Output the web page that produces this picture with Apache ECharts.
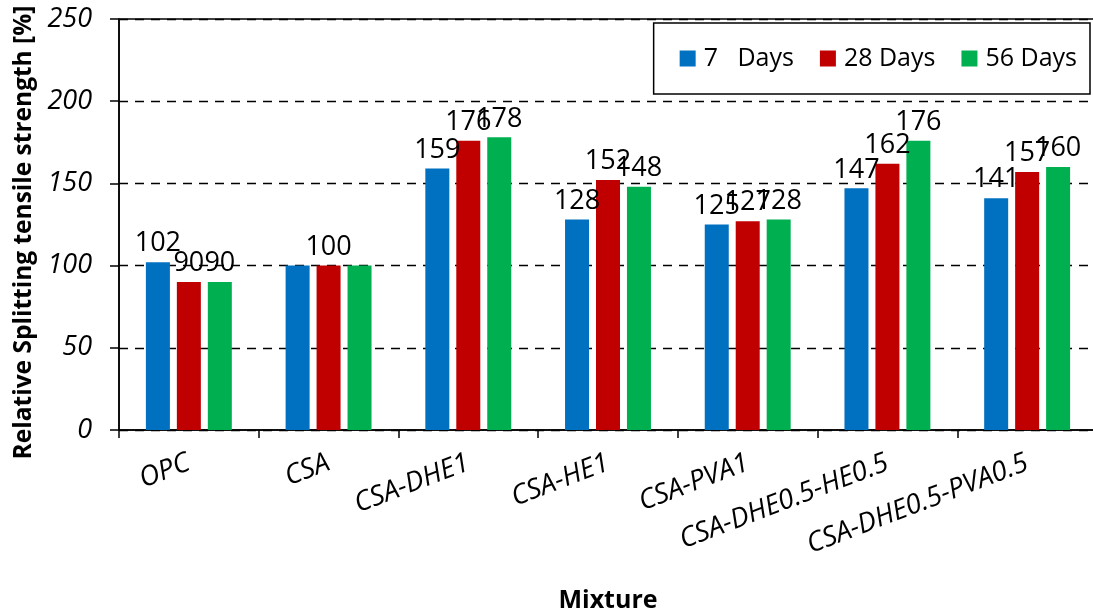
<!DOCTYPE html>
<html>
<head>
<meta charset="utf-8">
<script src="https://cdn.jsdelivr.net/npm/echarts@6/dist/echarts.min.js"></script>
<style>
  html, body { margin: 0; padding: 0; background: #fff; }
  #chart { width: 1093px; height: 616px; }
</style>
</head>
<body>
<div id="chart"></div>
<script>
// Mixtures and relative splitting tensile strength (%) at each age
const mixtures = ['OPC', 'CSA', 'CSA-DHE1', 'CSA-HE1', 'CSA-PVA1', 'CSA-DHE0.5-HE0.5', 'CSA-DHE0.5-PVA0.5'];
const days7  = [102, 100, 159, 128, 125, 147, 141];
const days28 = [90, 100, 176, 152, 127, 162, 157];
const days56 = [90, 100, 178, 148, 128, 176, 160];
const seriesNames = ['7   Days', '28 Days', '56 Days'];
const seriesColors = ['#0070C0', '#C00000', '#00B050'];
const yTicks = [0, 50, 100, 150, 200, 250];
// CSA is the reference mix: only its middle bar carries the value label
const hiddenLabels = [[1], [], [1]];

const FONT = '"Open Sans", "Liberation Sans", sans-serif';
const chart = echarts.init(document.getElementById('chart'), null, { renderer: 'canvas' });

const seriesData = [days7, days28, days56];
const series = seriesData.map((vals, s) => ({
  name: seriesNames[s],
  type: 'bar',
  barWidth: 24,
  barGap: '29%',
  itemStyle: { color: seriesColors[s] },
  label: {
    show: true,
    position: 'top',
    distance: 5,
    color: '#000',
    fontFamily: FONT,
    fontSize: 27
  },
  data: vals.map((v, i) => hiddenLabels[s].includes(i)
    ? { value: v, label: { show: false } }
    : v)
}));

chart.setOption({
  animation: false,
  backgroundColor: '#fff',
  textStyle: { fontFamily: FONT },
  grid: {
    left: 119, top: 19, right: -4, bottom: 186,
    show: true, borderColor: '#000', borderWidth: 1.5,
    containLabel: false,
    outerBoundsMode: 'none'
  },
  legend: {
    right: 3, top: 23, width: 420,
    orient: 'horizontal',
    padding: [23, 13, 23, 26],
    borderColor: '#000', borderWidth: 1.5,
    backgroundColor: '#fff',
    itemWidth: 16, itemHeight: 16, itemGap: 26,
    icon: 'rect',
    textStyle: { fontFamily: FONT, fontSize: 25, color: '#000', padding: [0, 0, 0, 3] },
    data: seriesNames
  },
  xAxis: {
    type: 'category',
    data: mixtures,
    name: 'Mixture',
    nameLocation: 'middle',
    nameGap: 158,
    nameTextStyle: { fontFamily: FONT, fontSize: 25, fontWeight: 'bold', color: '#000' },
    axisLine: { lineStyle: { color: '#000', width: 1.5 } },
    axisTick: { show: true, length: 8, lineStyle: { color: '#000', width: 1.5 } },
    axisLabel: {
      rotate: 21, margin: 32, interval: 0,
      fontFamily: FONT, fontSize: 27.5, fontStyle: 'italic', color: '#000'
    }
  },
  yAxis: {
    type: 'value',
    min: yTicks[0], max: yTicks[yTicks.length - 1], interval: 50,
    name: 'Relative Splitting tensile strength [%]',
    nameLocation: 'middle',
    nameGap: 80,
    nameTextStyle: { fontFamily: FONT, fontSize: 24.5, fontWeight: 'bold', color: '#000', padding: [0, 16, 0, 0] },
    axisLine: { show: true, lineStyle: { color: '#000', width: 1.5 } },
    axisTick: { show: true, length: 9, lineStyle: { color: '#000', width: 1.5 } },
    axisLabel: {
      margin: 27,
      fontFamily: FONT, fontSize: 27, fontStyle: 'italic', color: '#000'
    },
    splitLine: { show: true, lineStyle: { color: '#000', width: 1.3, type: [9, 7] } }
  },
  series: series
});
</script>
</body>
</html>
